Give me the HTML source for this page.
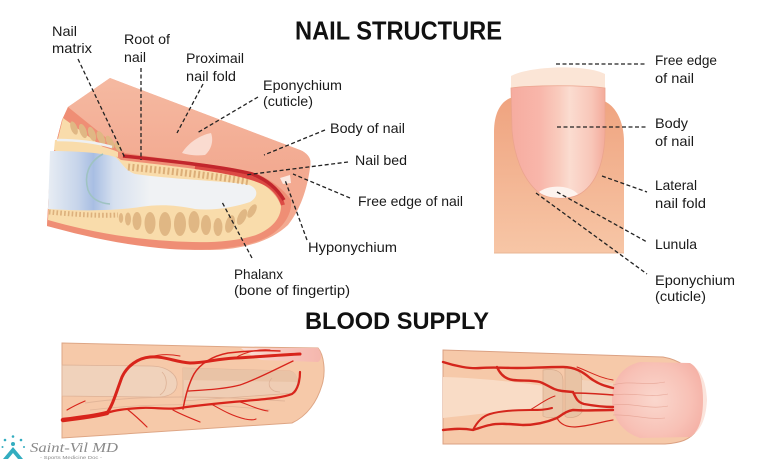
<!DOCTYPE html>
<html><head><meta charset="utf-8">
<style>html,body{margin:0;padding:0;background:#fff;}svg{display:block}</style>
</head><body>
<svg width="768" height="461" viewBox="0 0 768 461" xmlns="http://www.w3.org/2000/svg" font-family="'Liberation Sans', sans-serif">
<defs>
 <linearGradient id="boneG" x1="47" y1="0" x2="150" y2="0" gradientUnits="userSpaceOnUse">
  <stop offset="0" stop-color="#e9eef4"/>
  <stop offset="0.3" stop-color="#c6d4ea"/>
  <stop offset="0.45" stop-color="#a8bee3"/>
  <stop offset="0.65" stop-color="#d6e0ef"/>
  <stop offset="1" stop-color="#f0f2f4"/>
 </linearGradient>
 <linearGradient id="topG" x1="0" y1="78" x2="0" y2="180" gradientUnits="userSpaceOnUse">
  <stop offset="0" stop-color="#f5b9a1"/>
  <stop offset="1" stop-color="#f2a88f"/>
 </linearGradient>
 <linearGradient id="skinR" x1="0" y1="96" x2="0" y2="253" gradientUnits="userSpaceOnUse">
  <stop offset="0" stop-color="#efa37f"/>
  <stop offset="1" stop-color="#f7c6a6"/>
 </linearGradient>
 <linearGradient id="nailR" x1="511" y1="0" x2="606" y2="0" gradientUnits="userSpaceOnUse">
  <stop offset="0" stop-color="#f6aca0"/>
  <stop offset="0.3" stop-color="#f8b6aa"/>
  <stop offset="0.5" stop-color="#f9cbbd"/>
  <stop offset="0.62" stop-color="#fbdcd0"/>
  <stop offset="0.85" stop-color="#f8c6b8"/>
  <stop offset="1" stop-color="#f3a999"/>
 </linearGradient>
 <linearGradient id="nailBL" x1="240" y1="0" x2="320" y2="0" gradientUnits="userSpaceOnUse">
  <stop offset="0" stop-color="#fbe3da"/>
  <stop offset="0.4" stop-color="#f8c9c0"/>
  <stop offset="1" stop-color="#f5b7ae"/>
 </linearGradient>
 <radialGradient id="nailBR" cx="655" cy="400" r="50" gradientUnits="userSpaceOnUse">
  <stop offset="0" stop-color="#fad7cd"/>
  <stop offset="0.7" stop-color="#f8c1b6"/>
  <stop offset="1" stop-color="#f5b3a8"/>
 </radialGradient>
</defs>

<!-- ===== Titles ===== -->
<text x="295" y="39.5" font-size="26" font-weight="bold" fill="#111" textLength="207" lengthAdjust="spacingAndGlyphs">NAIL STRUCTURE</text>
<text x="305" y="329" font-size="24.5" font-weight="bold" fill="#111" textLength="184" lengthAdjust="spacingAndGlyphs">BLOOD SUPPLY</text>

<!-- ===== Top-left cutaway finger ===== -->
<!-- silhouette / tip -->
<path d="M68,107 L110,78 L300,150 C308,153 312,160 310,168 C307,190 300,210 288,225 C270,242 240,250 210,250 C160,250 100,238 47,226 L50,170 L55,147 L62,120 Z" fill="#f3aa91"/>
<!-- top surface -->
<path d="M68,107 L110,78 L300,150 C308,153 312,160 310,164 L286,178 C270,172 250,168 230,166 L125,155 Z" fill="url(#topG)"/>
<!-- cut face outer band -->
<path d="M68,107 L125,153 C170,160 230,166 255,173 C272,180 284,190 291,200 C293,215 281,232 261,240 C236,250 200,251 170,249 C120,245 80,235 47,226 L50,170 L55,147 L62,120 Z" fill="#ef8e75"/>
<!-- cream interior -->
<path d="M63,118 L121,160 C170,166 230,172 255,180 C270,187 278,197 281,206 C281,219 271,229 256,235 C231,243 200,243 170,241 C120,238 80,229 48,220 L51,170 L56,147 Z" fill="#f9dcab"/>
<!-- top fat pads -->
<g fill="#e0b784">
 <ellipse cx="74" cy="128" rx="3.2" ry="7" transform="rotate(-20 74 128)"/>
 <ellipse cx="83" cy="131" rx="3.4" ry="7.5" transform="rotate(-20 83 131)"/>
 <ellipse cx="92" cy="134" rx="3.4" ry="7.5" transform="rotate(-20 92 134)"/>
 <ellipse cx="101" cy="138" rx="3.4" ry="7.5" transform="rotate(-25 101 138)"/>
 <ellipse cx="110" cy="142" rx="3.2" ry="7" transform="rotate(-28 110 142)"/>
 <ellipse cx="118" cy="147" rx="2.6" ry="5.5" transform="rotate(-30 118 147)"/>
</g>
<!-- cream strip above bone left -->
<path d="M55,140 C75,141 100,144 118,152 L118,157 C100,152 75,150 54,150 Z" fill="#f9dcab"/>
<path d="M57,140 C75,140 95,142 112,147" stroke="#eef0f2" stroke-width="2.5" fill="none"/>
<!-- bottom small ticks left -->
<path d="M49,212 C70,214 95,216 118,215" stroke="#dcb07c" stroke-width="5" stroke-dasharray="1.6 2.2" fill="none"/>
<!-- bone -->
<path d="M50,151 C70,151 100,152 115,157 C122,162 124,170 135,174 C170,179 220,181 245,184 C258,186 260,196 250,202 C235,207 215,211 195,209 C175,205 160,204 140,207 C115,211 80,211 48,209 Z" fill="url(#boneG)"/>
<path d="M103,154 C88,162 84,176 88,190 C91,198 98,203 110,204" stroke="#9fc3c2" stroke-width="1.6" fill="none"/>
<!-- bottom fat pads -->
<g fill="#e0b784">
 <ellipse cx="121" cy="218" rx="2.2" ry="5"/>
 <ellipse cx="128" cy="219" rx="3" ry="6.5"/>
 <ellipse cx="137" cy="221" rx="4.5" ry="9"/>
 <ellipse cx="150" cy="223" rx="5.5" ry="11"/>
 <ellipse cx="165" cy="224" rx="6" ry="12"/>
 <ellipse cx="180" cy="224" rx="6" ry="12"/>
 <ellipse cx="194" cy="222" rx="5.5" ry="11"/>
 <ellipse cx="206" cy="225" rx="5" ry="10"/>
 <ellipse cx="218" cy="227" rx="4.5" ry="9"/>
 <ellipse cx="230" cy="224" rx="4.5" ry="9" transform="rotate(15 230 224)"/>
 <ellipse cx="242" cy="217" rx="4" ry="8.5" transform="rotate(25 242 217)"/>
 <ellipse cx="252" cy="211" rx="3.5" ry="7.5" transform="rotate(30 252 211)"/>
</g>
<!-- ticks under nail bed -->
<path d="M128,167 C170,171 215,176 250,182" stroke="#dcae78" stroke-width="7" stroke-dasharray="2 2.4" fill="none"/>
<!-- nail bed red -->
<path d="M195,167 C230,172 255,177 268,185 C277,191 281,198 283,205" stroke="#dc4a44" stroke-width="4" fill="none"/>
<path d="M123,156 C170,161 225,167 252,174 C268,180 278,190 284,200" stroke="#c2262c" stroke-width="3.5" fill="none"/>
<!-- free edge white -->
<path d="M280,178 L290,175 L291,183 L283,184 Z" fill="#fbe9e2"/>
<!-- cuticle -->
<path d="M182,153 C188,143 200,135 211,133 C214,141 211,150 205,155 C197,156 188,155 182,153 Z" fill="#fadbd0"/>

<!-- dashed leaders top-left -->
<g stroke="#222" stroke-width="1.3" stroke-dasharray="4 2.5" fill="none">
 <line x1="78" y1="59" x2="125" y2="158"/>
 <line x1="141" y1="68" x2="141" y2="160"/>
 <line x1="203" y1="84" x2="177" y2="133"/>
 <line x1="258" y1="97" x2="197" y2="133"/>
 <line x1="325" y1="130" x2="264" y2="155"/>
 <line x1="348" y1="162" x2="245" y2="175"/>
 <line x1="350" y1="198" x2="293" y2="174"/>
 <line x1="307" y1="240" x2="285" y2="180"/>
 <line x1="252" y1="258" x2="222" y2="202"/>
</g>

<!-- labels top-left -->
<g font-size="14" fill="#1a1a1a">
 <text x="52" y="36" textLength="25" lengthAdjust="spacingAndGlyphs">Nail</text>
 <text x="52" y="53" textLength="40" lengthAdjust="spacingAndGlyphs">matrix</text>
 <text x="124" y="44" textLength="46" lengthAdjust="spacingAndGlyphs">Root of</text>
 <text x="124" y="62" textLength="22" lengthAdjust="spacingAndGlyphs">nail</text>
 <text x="186" y="63" textLength="58" lengthAdjust="spacingAndGlyphs">Proximail</text>
 <text x="186" y="81" textLength="50" lengthAdjust="spacingAndGlyphs">nail fold</text>
 <text x="263" y="90" textLength="79" lengthAdjust="spacingAndGlyphs">Eponychium</text>
 <text x="263" y="106" textLength="50" lengthAdjust="spacingAndGlyphs">(cuticle)</text>
 <text x="330" y="133" textLength="75" lengthAdjust="spacingAndGlyphs">Body of nail</text>
 <text x="355" y="165" textLength="52" lengthAdjust="spacingAndGlyphs">Nail bed</text>
 <text x="358" y="206" textLength="105" lengthAdjust="spacingAndGlyphs">Free edge of nail</text>
 <text x="308" y="252" textLength="89" lengthAdjust="spacingAndGlyphs">Hyponychium</text>
 <text x="234" y="279" textLength="49" lengthAdjust="spacingAndGlyphs">Phalanx</text>
 <text x="234" y="295" textLength="116" lengthAdjust="spacingAndGlyphs">(bone of fingertip)</text>
</g>

<!-- ===== Top-right finger ===== -->
<path d="M494,253 L494,132 C494,110 503,99 514,97 L604,101 C616,106 624,122 624,142 L624,253 Z" fill="url(#skinR)"/>
<line x1="494" y1="253" x2="624" y2="253" stroke="#e9b796" stroke-width="1"/>
<path d="M511,76 C530,66 585,64 605,74 L605,89 C585,86 530,86 511,89 Z" fill="#fbe5d6"/>
<path d="M511,88 C530,85 585,85 605,88 L605,130 C605,160 597,185 578,195 C570,199 548,200 538,192 C522,178 514,155 512,130 Z" fill="url(#nailR)" stroke="#eba48e" stroke-width="0.8"/>
<path d="M539,192 C548,185 568,184 578,194 C570,199 548,200 539,192 Z" fill="#fdf3ee"/>

<g stroke="#222" stroke-width="1.3" stroke-dasharray="4 2.5" fill="none">
 <line x1="556" y1="64" x2="647" y2="64"/>
 <line x1="557" y1="127" x2="647" y2="127"/>
 <line x1="602" y1="176" x2="647" y2="192"/>
 <line x1="557" y1="192" x2="647" y2="242"/>
 <line x1="536" y1="193" x2="647" y2="274"/>
</g>
<g font-size="14" fill="#1a1a1a">
 <text x="655" y="65" textLength="62" lengthAdjust="spacingAndGlyphs">Free edge</text>
 <text x="655" y="83" textLength="39" lengthAdjust="spacingAndGlyphs">of nail</text>
 <text x="655" y="128" textLength="33" lengthAdjust="spacingAndGlyphs">Body</text>
 <text x="655" y="146" textLength="39" lengthAdjust="spacingAndGlyphs">of nail</text>
 <text x="655" y="190" textLength="42" lengthAdjust="spacingAndGlyphs">Lateral</text>
 <text x="655" y="208" textLength="51" lengthAdjust="spacingAndGlyphs">nail fold</text>
 <text x="655" y="249" textLength="42" lengthAdjust="spacingAndGlyphs">Lunula</text>
 <text x="655" y="285" textLength="80" lengthAdjust="spacingAndGlyphs">Eponychium</text>
 <text x="655" y="301" textLength="51" lengthAdjust="spacingAndGlyphs">(cuticle)</text>
</g>

<!-- ===== Bottom-left blood supply finger ===== -->
<path d="M62,343 L240,347 L318,348 C324,355 326,372 322,385 C317,402 307,416 292,423 L62,438 Z" fill="#f6c9a9" stroke="#dea685" stroke-width="1"/>
<path d="M241,348 L318,348 C322,353 322,360 318,362 L262,360 C252,357 246,352 241,348 Z" fill="url(#nailBL)"/>
<!-- bones -->
<path d="M62,365 L150,366 C168,366 178,375 177,385 C176,395 165,398 150,397 L62,396 Z" fill="#f0d2bb" stroke="#ddb196" stroke-width="0.8"/>
<path d="M183,368 L290,371 C298,373 300,386 295,393 L183,401 Z" fill="#efcdb4" stroke="#ddb196" stroke-width="0.8"/>
<path d="M183,368 L290,371 C296,372 298,378 297,382 L183,380 Z" fill="#e9c3a6"/>
<path d="M162,372 C168,378 168,390 160,395" stroke="#ddb196" stroke-width="0.8" fill="none"/>
<path d="M272,378 C266,384 270,392 280,392" stroke="#ddb196" stroke-width="0.8" fill="none"/>
<path d="M85,403 C130,396 200,395 285,401" stroke="#e2b599" stroke-width="1" fill="none"/>
<path d="M90,410 C140,404 200,402 270,410" stroke="#e2b599" stroke-width="0.8" fill="none"/>
<!-- vessels -->
<g stroke="#d8241b" fill="none" stroke-linecap="round">
 <path d="M63,420 C80,418 95,416 107,413" stroke-width="4.5"/>
 <path d="M107,413 C113,405 117,390 122,377 C127,366 138,358 150,357 C165,356 175,362 190,363 C205,363 215,359 235,358 C255,357 280,355 300,354" stroke-width="3"/>
 <path d="M107,413 C115,410 125,409 140,408 C155,407 165,410 180,408 C200,405 220,403 245,401 C265,399 282,398 292,394 C298,390 300,380 300,372" stroke-width="2.2"/>
 <path d="M183,409 C185,398 188,385 194,374 C200,364 212,356 228,353 C245,351 260,350 280,351" stroke-width="1.5"/>
 <path d="M188,391 C205,390 225,389 240,385 C255,380 270,372 293,361" stroke-width="1.3"/>
 <path d="M127,409 C132,413 138,418 147,427" stroke-width="1.2"/>
 <path d="M173,410 C180,414 190,418 200,422" stroke-width="1.2"/>
 <path d="M213,405 C222,410 232,416 245,419 C250,420 254,420 256,419" stroke-width="1.1"/>
 <path d="M240,402 C250,405 258,410 268,411" stroke-width="1"/>
 <path d="M67,410 C72,407 78,404 85,401" stroke-width="1.2"/>
 <path d="M150,357 C160,354 170,354 180,356" stroke-width="1"/>
 <path d="M235,358 C245,352 258,349 270,350" stroke-width="1"/>
</g>

<!-- ===== Bottom-right blood supply finger ===== -->
<path d="M443,350 L663,357 C680,360 690,368 697,380 L697,430 C690,440 680,443 665,444 L443,444 Z" fill="#f6c9a9" stroke="#dba183" stroke-width="1"/>
<!-- bone band -->
<path d="M443,377 C480,378 515,382 545,386 L545,407 C515,410 480,414 443,418 Z" fill="#f9dcc6"/>
<path d="M543,370 C556,368 563,372 563,380 L563,412 C560,418 548,419 543,416 Z" fill="#ebc6a9" stroke="#d8aa8b" stroke-width="0.7"/>
<path d="M565,368 C575,367 582,372 582,380 L582,412 C578,418 568,419 565,416 Z" fill="#e9c3a4" stroke="#d8aa8b" stroke-width="0.7"/>
<path d="M582,380 L613,383 L613,412 L582,410 Z" fill="#f2d3bc"/>
<!-- nail -->
<path d="M690,365 C700,368 706,380 707,400 C706,420 700,432 690,436 Z" fill="#fbe4dc"/>
<path d="M640,362 L690,363 C700,368 703,385 703,400 C703,418 699,432 690,437 L640,438 C622,432 612,418 612,400 C612,380 622,366 640,362 Z" fill="url(#nailBR)"/>
<g stroke="#e6a596" stroke-width="0.6" fill="none">
 <path d="M613,385 C630,380 645,386 665,382"/>
 <path d="M613,395 C630,392 648,398 668,394"/>
 <path d="M613,405 C630,402 648,410 668,406"/>
 <path d="M613,415 C630,414 648,420 665,418"/>
</g>
<!-- vessels -->
<g stroke="#d4261c" fill="none" stroke-linecap="round">
 <path d="M443,362 C455,366 470,369 480,368 C495,367 505,368 517,368 C530,368 545,367 563,367 C575,367 583,372 590,378 C598,384 605,386 613,388" stroke-width="2.4"/>
 <path d="M497,367 C500,374 505,379 513,380 C522,381 532,380 540,382 C548,385 553,390 562,391 L573,392 C576,398 577,402 584,404 C595,406 605,407 613,407" stroke-width="2.4"/>
 <path d="M573,393 C585,393 600,394 613,395" stroke-width="1.4"/>
 <path d="M577,367 C590,372 600,378 613,380" stroke-width="1"/>
 <path d="M443,430 C452,429 462,428 473,430 C480,428 484,426 490,425 C498,423 510,424 523,425 C532,425 545,423 557,418 C562,415 566,411 573,410 C585,411 595,410 613,410" stroke-width="2.4"/>
 <path d="M473,430 C477,422 483,416 490,414 C500,411 515,410 530,410 C540,410 545,410 552,408" stroke-width="2"/>
 <path d="M557,418 C560,424 566,427 575,427 C590,426 600,422 613,420" stroke-width="1.2"/>
 <path d="M530,410 C540,404 548,398 555,396" stroke-width="1"/>
</g>

<!-- ===== Logo ===== -->
<g fill="#33adc0">
 <circle cx="5" cy="440" r="1.3"/>
 <circle cx="13" cy="436.5" r="1.3"/>
 <circle cx="21" cy="440" r="1.3"/>
 <circle cx="2.5" cy="447" r="1"/>
 <circle cx="24" cy="447" r="1"/>
 <circle cx="13" cy="444" r="2"/>
 <path d="M3,459 L13,447 L23,459 L18,459 L13,453 L8,459 Z"/>
</g>
<text x="30" y="452" font-family="'Liberation Serif', serif" font-style="italic" font-size="14" fill="#8a8a8a" textLength="88" lengthAdjust="spacingAndGlyphs">Saint-Vil MD</text>
<text x="40" y="459" font-size="4.5" fill="#8a8a8a" textLength="62" lengthAdjust="spacingAndGlyphs">- Sports Medicine Doc -</text>
</svg>
</body></html>
